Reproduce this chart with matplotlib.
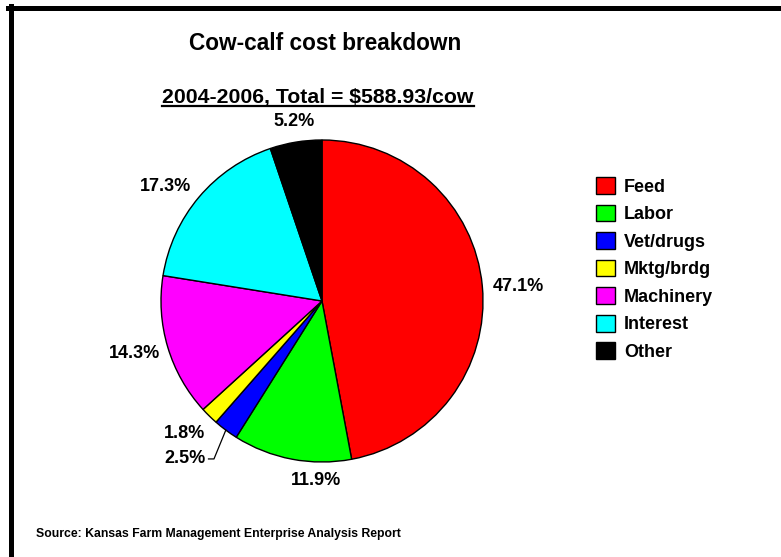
import numpy as np
import matplotlib
matplotlib.use('Agg')
import matplotlib.pyplot as plt
from matplotlib.lines import Line2D

plt.rcParams['font.family'] = ['Liberation Sans', 'DejaVu Sans']
plt.rcParams['font.weight'] = 'bold'

categories = ['Feed', 'Labor', 'Vet/drugs', 'Mktg/brdg', 'Machinery', 'Interest', 'Other']
shares = [47.1, 11.9, 2.5, 1.8, 14.3, 17.3, 5.2]
colors = ['#FF0000', '#00FF00', '#0000FF', '#FFFF00', '#FF00FF', '#00FFFF', '#000000']

# label centres in pie-radius units
label_pos = [(1.217, 0.087), (-0.037, -1.118), (-0.851, -0.981), (-0.851, -0.826),
             (-1.165, -0.329), (-0.975, 0.714), (-0.174, 1.112)]


def main():
    fig = plt.figure(figsize=(7.81, 5.57), dpi=100)
    W, H = 781, 557

    # pie occupies a 322 px square
    ax = fig.add_axes([161 / W, 1 - 462 / H, 322 / W, 322 / H])
    wedges, _ = ax.pie(shares, colors=colors, startangle=90, counterclock=False,
                       radius=1, wedgeprops=dict(edgecolor='black', linewidth=1.0))
    ax.set_aspect('auto')
    ax.set_xlim(-1, 1)
    ax.set_ylim(-1, 1)
    ax.axis('off')

    for val, (x, y) in zip(shares, label_pos):
        ax.text(x, y, f'{val}%', ha='center', va='center', fontsize=13,
                fontweight='bold', clip_on=False)

    # leader line for the small Vet/drugs slice
    w = wedges[categories.index('Vet/drugs')]
    mid = np.deg2rad((w.theta1 + w.theta2) / 2)
    ex, ey = np.cos(mid), np.sin(mid)
    lx, ly = label_pos[categories.index('Vet/drugs')]
    ax.add_line(Line2D([ex, -0.671, -0.705], [ey, ly, ly], color='black',
                       linewidth=0.9, clip_on=False))

    fig.text(325 / W, 1 - 43 / H, 'Cow-calf cost breakdown', ha='center', va='center',
             fontsize=16.3, fontweight='bold')
    sub = fig.text(318 / W, 1 - 97 / H, '2004-2006, Total = $588.93/cow', ha='center',
                   va='center', fontsize=15.3, fontweight='bold')
    fig.canvas.draw()
    bb = sub.get_window_extent()
    uy = 1 - 106 / H
    fig.add_artist(Line2D([bb.x0 / W, bb.x1 / W], [uy, uy], color='black', linewidth=1.6))

    fig.text(36 / W, 1 - 534 / H, 'Source: Kansas Farm Management Enterprise Analysis Report',
             ha='left', va='center', fontsize=8.8, fontweight='bold')

    fig.legend(wedges, categories, loc='upper left', bbox_to_anchor=(596 / W, 1 - 177 / H),
               frameon=False, fontsize=13, handlelength=1.05, handleheight=1.05,
               handletextpad=0.5, labelspacing=0.5, borderpad=0, borderaxespad=0)

    # outer frame: top and left rules
    fig.add_artist(Line2D([8 / W, 1], [1 - 7.5 / H, 1 - 7.5 / H], color='black', linewidth=3.6))
    fig.add_artist(Line2D([10.5 / W, 10.5 / W], [0, 1 - 5.5 / H], color='black', linewidth=3.6))

    fig.savefig('out.png', dpi=100)


if __name__ == '__main__':
    main()
